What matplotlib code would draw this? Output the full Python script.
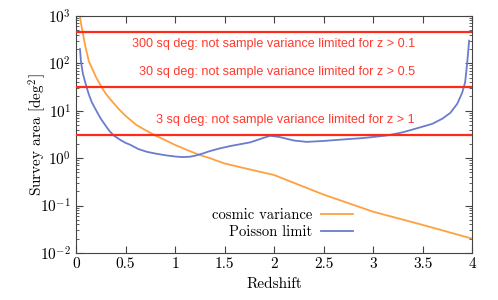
import numpy as np
import matplotlib
matplotlib.use('Agg')
import matplotlib.pyplot as plt

plt.rcParams['font.family'] = 'cmr10'
plt.rcParams['mathtext.fontset'] = 'cm'
plt.rcParams['axes.formatter.use_mathtext'] = True

# cosmic variance curve
z_cv = [0.03, 0.04, 0.05, 0.068, 0.09, 0.13, 0.17, 0.2, 0.26, 0.3, 0.35, 0.44,
        0.5, 0.61, 0.7, 0.8, 0.9, 1.0, 1.1, 1.23, 1.35, 1.5, 1.75, 2.0, 2.5,
        3.0, 3.5, 4.0]
a_cv = [1400, 1000, 700, 450, 250, 110, 72, 52, 31, 23, 17, 10.4,
        7.8, 5.0, 3.9, 3.0, 2.4, 1.9, 1.55, 1.2, 1.0, 0.77, 0.58, 0.44, 0.17,
        0.074, 0.039, 0.020]

# Poisson limit curve
z_p = [0.04, 0.042, 0.045, 0.05, 0.06, 0.07, 0.09, 0.11, 0.13, 0.16, 0.21,
       0.25, 0.3, 0.34, 0.38, 0.45, 0.5, 0.55, 0.63, 0.72, 0.8, 0.9, 1.0,
       1.08, 1.15, 1.2, 1.28, 1.35, 1.45, 1.56, 1.76, 1.9, 1.96, 2.05, 2.2,
       2.33, 2.5, 2.67, 2.9, 3.14, 3.3, 3.45, 3.6, 3.7, 3.78, 3.85, 3.9,
       3.93, 3.95, 3.97]
a_p = [200, 180, 150, 110, 80, 60, 42, 30, 22, 15, 9.6,
       6.8, 4.8, 3.7, 3.0, 2.4, 2.1, 1.9, 1.55, 1.35, 1.25, 1.15, 1.08,
       1.05, 1.07, 1.12, 1.25, 1.4, 1.6, 1.8, 2.15, 2.7, 2.95, 2.8, 2.35,
       2.2, 2.3, 2.45, 2.65, 3.0, 3.5, 4.3, 5.3, 6.8, 9, 14, 24,
       40, 100, 300]

# survey areas and labels
areas = [450, 31, 3]
labels = ['300 sq deg: not sample variance limited for z > 0.1',
          '30 sq deg: not sample variance limited for z > 0.5',
          '3 sq deg: not sample variance limited for z > 1']
label_y = [255, 66, 6.4]

fig = plt.figure(figsize=(4.98, 3.0), dpi=100)
ax = fig.add_axes([0.1526, 0.157, 0.7954, 0.79])

for a in areas:
    ax.axhline(a, color='#ff2a1a', lw=1.6, zorder=3)
for t, yy in zip(labels, label_y):
    ax.text(3.42, yy, t, color='#ff3b30', fontsize=9.1, ha='right', va='center',
            family='Liberation Sans')

ax.plot(z_cv, a_cv, color='#ffa040', lw=1.3, label='cosmic variance')
ax.plot(z_p, a_p, color='#6a7ccc', lw=1.3, label='Poisson limit')

ax.set_yscale('log')
ax.set_xlim(0, 4)
ax.set_ylim(1e-2, 1e3)
ax.set_xticks(np.arange(0, 4.01, 0.5))
ax.set_xticklabels(['0', '0.5', '1', '1.5', '2', '2.5', '3', '3.5', '4'])
ax.tick_params(which='both', direction='in', top=True, right=True, labelsize=11,
               color='#444444')
ax.tick_params(which='major', length=5)
ax.tick_params(which='minor', length=2.5)
for s in ax.spines.values():
    s.set_color('#444444')

ax.set_xlabel('Redshift', fontsize=11)
ax.set_ylabel(r'Survey area [deg$^2$]', fontsize=11, labelpad=-6)

ax.legend(loc='lower right', bbox_to_anchor=(0.7, 0.06), frameon=False,
          markerfirst=False, fontsize=10.5, handlelength=2.2, labelspacing=0.2,
          borderpad=0, borderaxespad=0, handletextpad=0.6)

fig.savefig('out.png', dpi=100)
